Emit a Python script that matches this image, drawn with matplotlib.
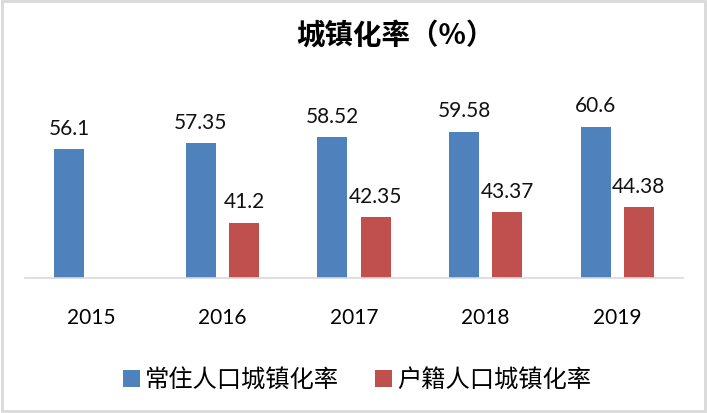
# 城镇化率 grouped bar chart

import numpy as np
import matplotlib
matplotlib.use("Agg")
import matplotlib.pyplot as plt
from matplotlib.patches import Rectangle

years = ["2015", "2016", "2017", "2018", "2019"]
resident = [56.1, 57.35, 58.52, 59.58, 60.6]
household = [None, 41.2, 42.35, 43.37, 44.38]
series_names = ["常住人口城镇化率", "户籍人口城镇化率"]

blue = "#4F81BD"
red = "#C0504D"

plt.rcParams['font.family'] = ['Lato', 'Noto Sans CJK SC', 'DejaVu Sans']

fig = plt.figure(figsize=(7.07, 4.14), dpi=100)
ax = fig.add_axes([25 / 707, 135 / 414, 658 / 707, 198 / 414])

x = np.arange(len(years))
w = 0.229
off = 0.164

b1 = ax.bar(x - off, resident, w, color=blue, label=series_names[0])
hx = [i for i, v in enumerate(household) if v is not None]
hv = [v for v in household if v is not None]
b2 = ax.bar(np.array(hx) + off, hv, w, color=red, label=series_names[1])

for xs, vals in [(x - off, resident), (np.array(hx) + off, hv)]:
    for xi, v in zip(xs, vals):
        ax.annotate(f"{v:g}", (xi, v), xytext=(0, 8), textcoords="offset points",
                    ha="center", va="bottom", fontsize=15, color="#111111")

ax.set_xlim(-0.5, len(years) - 0.5)
ax.set_ylim(30, 70)
ax.set_xticks(x)
ax.set_xticklabels(years, fontsize=15)
ax.tick_params(axis="x", length=0, pad=21)
ax.set_yticks([])
for s in ["top", "right", "left"]:
    ax.spines[s].set_visible(False)
ax.spines["bottom"].set_color("#D9D9D9")
ax.spines["bottom"].set_linewidth(1.2)

fig.text(395 / 707, 1 - 36 / 414, "城镇化率（%）", ha="center", va="center",
         fontsize=20.5, fontweight="bold", family=['Noto Sans CJK SC', 'DejaVu Sans'])

leg = fig.legend(handles=[b1, b2], labels=series_names, loc="center",
                 bbox_to_anchor=(357 / 707, 1 - 381 / 414), ncol=2, frameon=False,
                 prop={'family': 'Noto Sans CJK SC', 'size': 17.5},
                 handlelength=0.7, handleheight=0.7, handletextpad=0.2,
                 columnspacing=1.5)

fig.patches.append(Rectangle((0.003, 0.004), 0.994, 0.992, transform=fig.transFigure,
                             fill=False, edgecolor="#D9D9D9", linewidth=2))

fig.savefig("out.png", dpi=100)
